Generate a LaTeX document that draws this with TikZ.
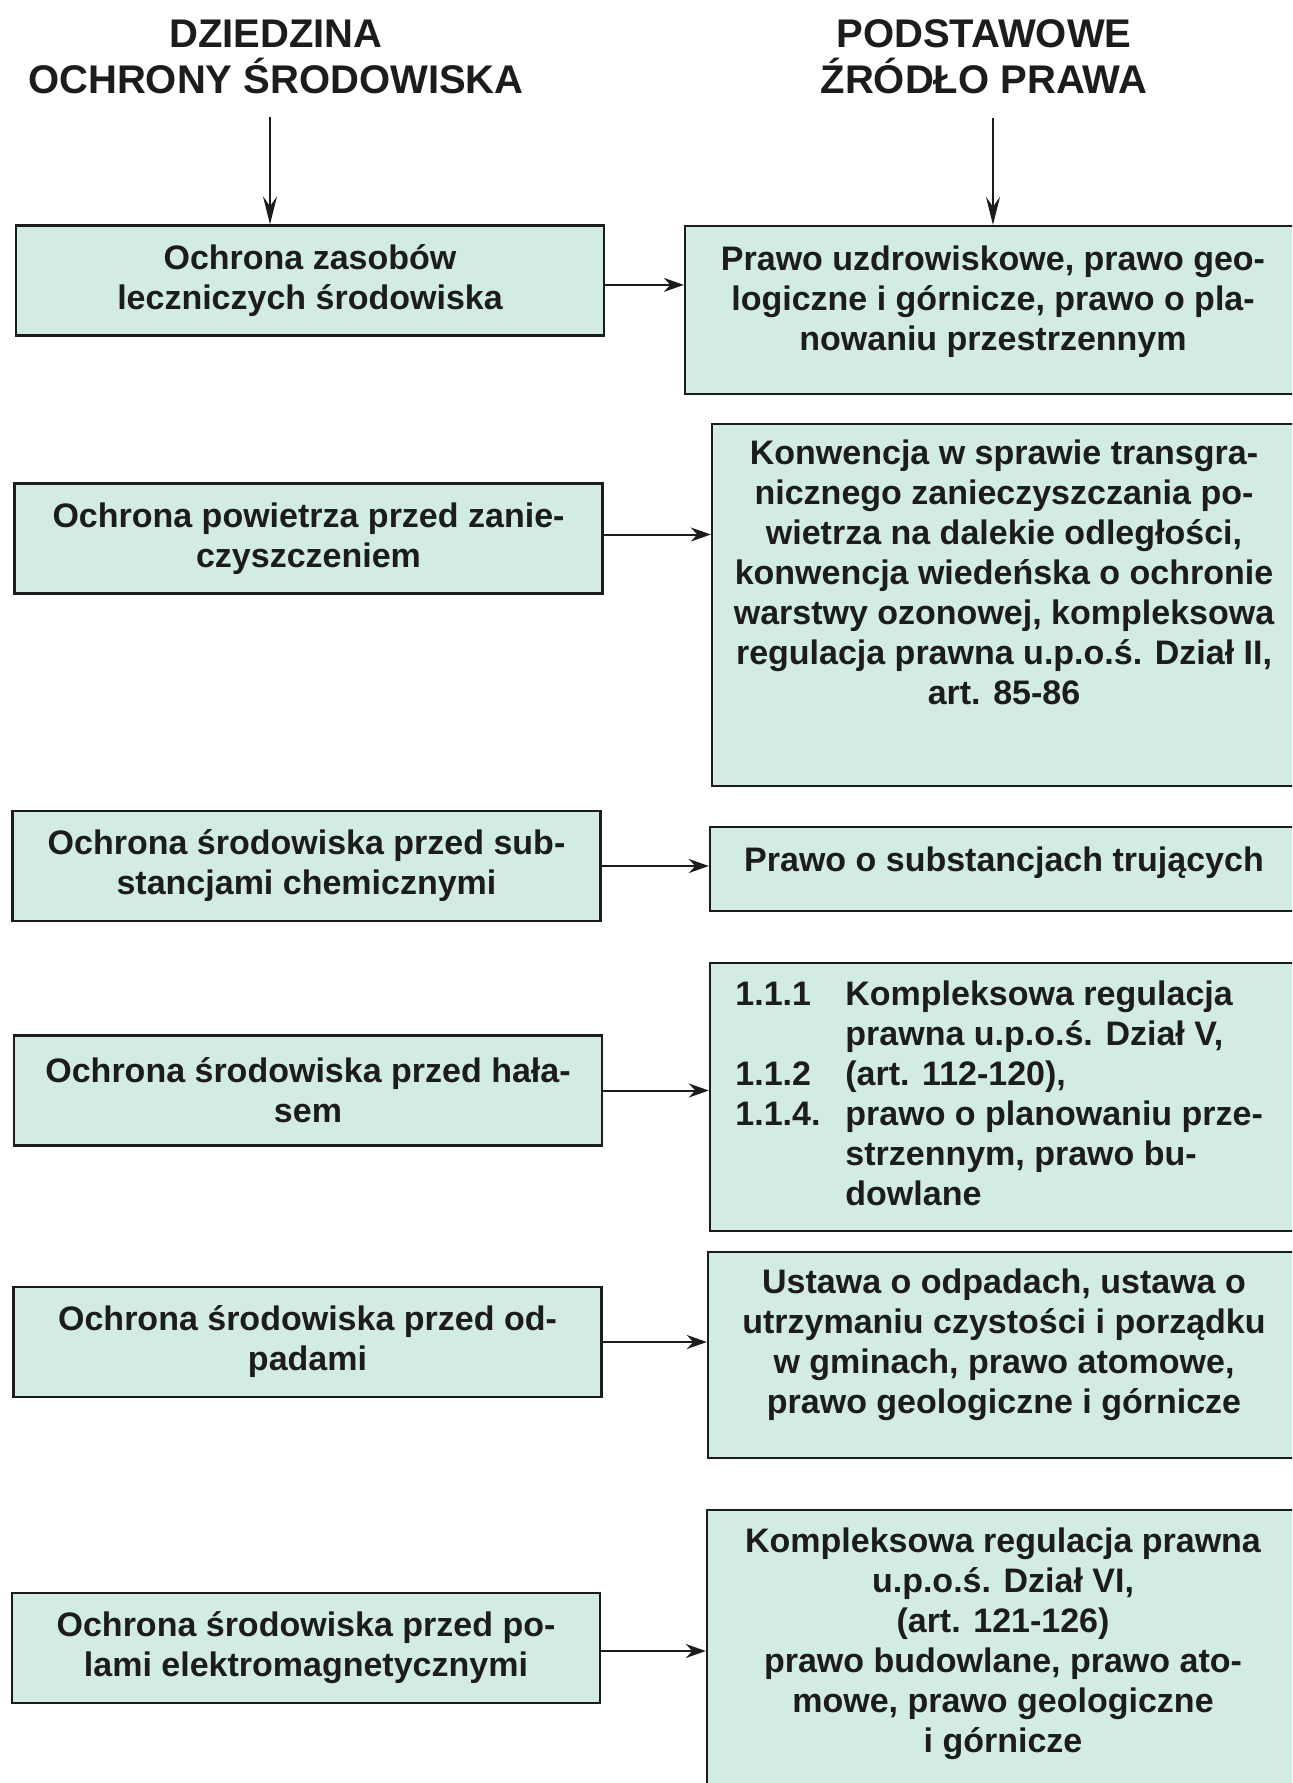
\documentclass[tikz,border=0pt]{standalone}
\usepackage{fontspec}
\setmainfont{Liberation Sans}
\usetikzlibrary{arrows.meta,fit}
\definecolor{boxfill}{RGB}{210,235,227}
\definecolor{ink}{RGB}{28,28,28}

\begin{document}
\begin{tikzpicture}[x=0.5pt,y=-0.5pt,
  every node/.style={font=\bfseries\fontsize{17}{20}\selectfont, text=ink},
  head/.style={font=\bfseries\fontsize{20}{23}\selectfont, align=center, inner sep=0pt},
  leftbox/.style={draw=ink, line width=1.2pt, fill=boxfill, minimum width=294pt,
    minimum height=55pt, align=center, inner sep=0pt},
  rightbox/.style={draw=ink, line width=1.2pt, fill=boxfill, inner sep=0pt},
  boxtext/.style={align=center, inner sep=0pt},
  link/.style={draw=ink, line width=1pt, -{Stealth[length=10pt,width=7pt]}},
  feed/.style={draw=ink, line width=0.7pt, -{Stealth[length=14pt,width=7pt,inset=5pt]}}
]
\useasboundingbox (0,0) rectangle (1292,1783);
\clip (0,0) rectangle (1292,1783);

% column headings
\node[head] (H1) at (276,56.5) {DZIEDZINA\\OCHRONY ŚRODOWISKA};
\node[head] (H2) at (984,56.5) {PODSTAWOWE\\ŹRÓDŁO PRAWA};

% left column: fields of environmental protection
\node[leftbox] (L1) at (310,280.5)  {Ochrona zasobów\\leczniczych środowiska};
\node[leftbox] (L2) at (308.5,538.5) {Ochrona powietrza przed zanie-\\czyszczeniem};
\node[leftbox] (L3) at (306.5,866)  {Ochrona środowiska przed sub-\\stancjami chemicznymi};
\node[leftbox] (L4) at (308,1090.5) {Ochrona środowiska przed hała-\\sem};
\node[leftbox] (L5) at (307.5,1342) {Ochrona środowiska przed od-\\padami};
\node[leftbox] (L6) at (306,1648)   {Ochrona środowiska przed po-\\lami elektromagnetycznymi};

% right column: legal sources (boxes run off the right edge)
\node[rightbox, fit={(685,226) (1310,394)}]   (R1) {};
\node[rightbox, fit={(712,424) (1310,786)}]   (R2) {};
\node[rightbox, fit={(710,827) (1310,911)}]   (R3) {};
\node[rightbox, fit={(710,963) (1310,1231)}]  (R4) {};
\node[rightbox, fit={(708,1252) (1310,1458)}] (R5) {};
\node[rightbox, fit={(707,1510) (1310,1810)}] (R6) {};

\node[boxtext] (R1t) at (993,302) {Prawo uzdrowiskowe, prawo geo-\\logiczne i górnicze, prawo o pla-\\nowaniu przestrzennym};
\node[boxtext] (R2t) at (1004,572) {Konwencja w sprawie transgra-\\nicznego zanieczyszczania po-\\wietrza na dalekie odległości,\\konwencja wiedeńska o ochronie\\warstwy ozonowej, kompleksowa\\regulacja prawna u.p.o.ś. Dział II,\\art. 85-86};
\node[boxtext] (R3t) at (1004,863) {Prawo o substancjach trujących};
\node[anchor=west, align=left, inner sep=0pt] (R4t) at (735,1093)
  {\makebox[55pt][l]{1.1.1}Kompleksowa regulacja\\
   \hspace*{55pt}prawna u.p.o.ś. Dział V,\\
   \makebox[55pt][l]{1.1.2}(art. 112-120),\\
   \makebox[55pt][l]{1.1.4.}prawo o planowaniu prze-\\
   \hspace*{55pt}strzennym, prawo bu-\\
   \hspace*{55pt}dowlane};
\node[boxtext] (R5t) at (1004,1345) {Ustawa o odpadach, ustawa o\\utrzymaniu czystości i porządku\\w gminach, prawo atomowe,\\prawo geologiczne i górnicze};
\node[boxtext] (R6t) at (1003,1644) {Kompleksowa regulacja prawna\\u.p.o.ś. Dział VI,\\(art. 121-126)\\prawo budowlane, prawo ato-\\mowe, prawo geologiczne\\i górnicze};

% heading arrows
\coordinate (F1) at (270,117);
\coordinate (F2) at (993,118);
\draw[feed] (F1) -- (F1 |- L1.north);
\draw[feed] (F2) -- (F2 |- R1.north);

% field -> legal source
\draw[link] ([yshift=-2.2pt]L1.east) -- ([yshift=-2.2pt]L1.east -| R1.west);
\draw[link] ([yshift=2pt]L2.east) -- ([yshift=2pt]L2.east -| R2.west);
\foreach \i in {3,4,5}
  \draw[link] (L\i.east) -- (L\i.east -| R\i.west);
\draw[link] ([yshift=-1.5pt]L6.east) -- ([yshift=-1.5pt]L6.east -| R6.west);
\end{tikzpicture}
\end{document}
